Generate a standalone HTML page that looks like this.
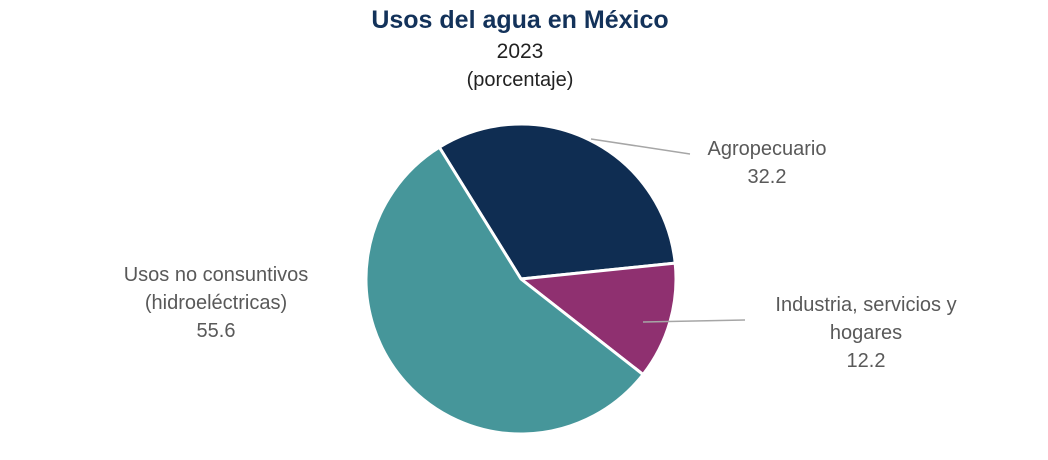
<!DOCTYPE html>
<html><head><meta charset="utf-8"><style>
html,body{margin:0;padding:0;background:#fff;}
svg{display:block;font-family:"Liberation Sans",Arial,sans-serif;}
</style></head><body>
<svg id="chart" width="1048" height="460" viewBox="0 0 1048 460">
<text x="520" y="28" text-anchor="middle" font-size="25" font-weight="bold" fill="#13325a">Usos del agua en México</text>
<text x="520" y="58" text-anchor="middle" font-size="21" fill="#222">2023</text>
<text x="520" y="86" text-anchor="middle" font-size="20" fill="#222">(porcentaje)</text>
<g id="slices"></g>
<g id="labels"></g>
</svg>
<script>
const categories = ["Agropecuario", "Industria, servicios y hogares", "Usos no consuntivos (hidroeléctricas)"];
const values = [32.2, 12.2, 55.6];
const valueLabels = ["32.2", "12.2", "55.6"];
const colors = ["#0f2d52", "#8f3070", "#46969a"];

const cx = 521, cy = 279, r = 155, startDeg = -31.8;
const ns = "http://www.w3.org/2000/svg";
const total = values.reduce((a, b) => a + b, 0);
function pt(deg, rad) {
  const a = deg * Math.PI / 180;
  return [cx + rad * Math.sin(a), cy - rad * Math.cos(a)];
}
const g = document.getElementById("slices");
const lg = document.getElementById("labels");
let ang = startDeg;
const mids = [];
values.forEach((v, i) => {
  const sweep = v / total * 360;
  const p0 = pt(ang, r), p1 = pt(ang + sweep, r);
  const large = sweep > 180 ? 1 : 0;
  const path = document.createElementNS(ns, "path");
  path.setAttribute("d", `M${cx},${cy} L${p0[0]},${p0[1]} A${r},${r} 0 ${large} 1 ${p1[0]},${p1[1]} Z`);
  path.setAttribute("fill", colors[i]);
  path.setAttribute("stroke", "#fff");
  path.setAttribute("stroke-width", "3");
  path.setAttribute("stroke-linejoin", "round");
  
  
  g.appendChild(path);
  mids.push(ang + sweep / 2);
  ang += sweep;
});

function addText(x, y, lines, name) {
  const t = document.createElementNS(ns, "text");
  t.setAttribute("x", x); t.setAttribute("y", y);
  t.setAttribute("text-anchor", "middle");
  t.setAttribute("font-size", "20");
  t.setAttribute("fill", "#595959");
  
  
  lines.forEach((l, k) => {
    const s = document.createElementNS(ns, "tspan");
    s.setAttribute("x", x);
    s.setAttribute("dy", k === 0 ? 0 : 28);
    s.textContent = l;
    t.appendChild(s);
  });
  lg.appendChild(t);
}
function addLine(x1, y1, x2, y2, name) {
  const l = document.createElementNS(ns, "polyline");
  l.setAttribute("points", `${x1},${y1} ${x2},${y2}`);
  l.setAttribute("stroke", "#a6a6a6");
  l.setAttribute("stroke-width", "1.5");
  l.setAttribute("fill", "none");
  
  
  lg.appendChild(l);
}
// Agropecuario
addLine(591, 139, 690, 154, "leader-line-agropecuario");
addText(767, 155, [categories[0], valueLabels[0]], "label-agropecuario");
// Industria
addLine(643, 322, 745, 320, "leader-line-industria");
addText(866, 311, ["Industria, servicios y", "hogares", valueLabels[1]], "label-industria");
// Usos no consuntivos
addText(216, 281, ["Usos no consuntivos", "(hidroeléctricas)", valueLabels[2]], "label-usos-no-consuntivos");
</script>
</body></html>
